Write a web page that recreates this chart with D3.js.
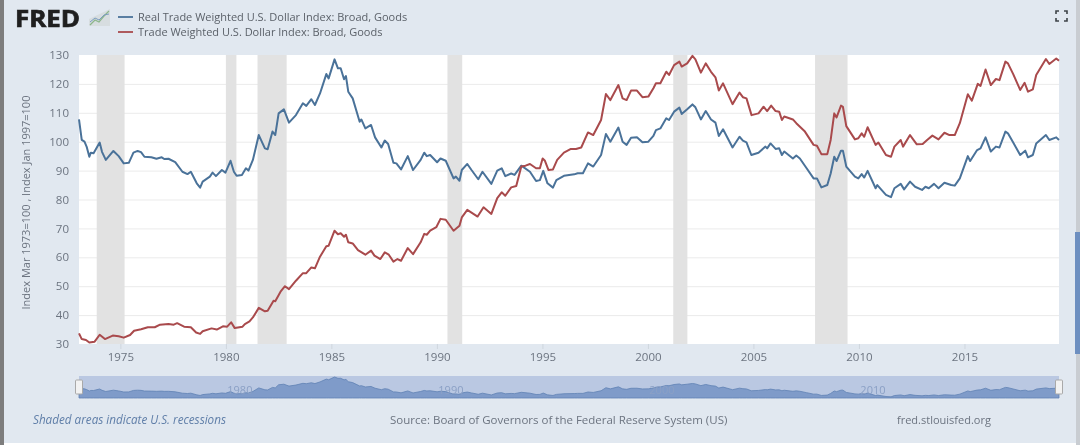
<!DOCTYPE html>
<html>
<head>
<meta charset="utf-8">
<script src="https://cdn.jsdelivr.net/npm/d3@7"></script>
<style>
  html, body { margin: 0; padding: 0; background: #e1e8f0; overflow: hidden; }
  text { font-family: "Open Sans", sans-serif; }
  /* the reference is a soft screenshot */
  #chart { filter: blur(0.35px); }
</style>
</head>
<body>
<svg id="chart" width="1080" height="445"></svg>
<script>
const realName = "Real Trade Weighted U.S. Dollar Index: Broad, Goods";
const nominalName = "Trade Weighted U.S. Dollar Index: Broad, Goods";
const yearTicks = [1975, 1980, 1985, 1990, 1995, 2000, 2005, 2010, 2015];
const valueTicks = [30, 40, 50, 60, 70, 80, 90, 100, 110, 120, 130];
const navigatorLabels = [1980, 1990, 2000, 2010];

// [start, end] in decimal years
const recessions = [[1973.88, 1975.2], [1980.0, 1980.5], [1981.5, 1982.88], [1990.5, 1991.2], [2001.2, 2001.87], [2007.92, 2009.46]];

// [decimal year, index]
const realSeries = [
  [1973.04,107.7],[1973.17,100.6],[1973.3,100],[1973.4,98.3],[1973.53,94.8],[1973.6,96.2],[1973.73,96],[1974.02,99.7],[1974.13,96.5],[1974.31,93.7],
  [1974.67,96.8],[1974.92,95],[1975.16,92.5],[1975.4,92.7],[1975.62,96.2],[1975.82,96.8],[1975.98,96.4],[1976.14,94.8],[1976.47,94.6],[1976.71,94.1],
  [1976.96,94.6],[1977.08,94],[1977.28,94.1],[1977.6,92.9],[1977.94,89.6],[1978.18,88.8],[1978.34,89.6],[1978.62,85.6],[1978.78,84.1],[1978.9,86.2],
  [1979.24,87.9],[1979.37,89.3],[1979.53,88.1],[1979.81,90.2],[1979.98,89.3],[1980.22,93.4],[1980.38,89.6],[1980.51,88.2],[1980.76,88.5],[1980.95,90.8],
  [1981.07,90],[1981.28,93.7],[1981.56,102.3],[1981.85,97.7],[1981.98,97.4],[1982.21,103.5],[1982.34,102.3],[1982.5,109.8],[1982.75,111.2],[1982.99,106.6],
  [1983.32,109.2],[1983.65,113.3],[1983.81,112.4],[1984.05,114.7],[1984.22,112.7],[1984.46,116.7],[1984.76,123.4],[1984.87,121.9],[1985.15,128.5],[1985.31,125.4],
  [1985.44,125.4],[1985.6,121.6],[1985.69,122.7],[1985.8,117.3],[1986.01,115],[1986.34,106.9],[1986.42,107.7],[1986.61,104.6],[1986.88,105.8],[1987.07,101.5],
  [1987.37,98],[1987.53,100.4],[1987.69,99.2],[1987.94,92.7],[1988.08,92.5],[1988.3,90.4],[1988.62,95],[1988.87,90.2],[1989.23,93.7],[1989.4,96.2],
  [1989.52,95],[1989.68,95.4],[1990.01,92.9],[1990.17,94.2],[1990.42,93.4],[1990.79,87.3],[1990.9,87.9],[1991.07,86.5],[1991.18,90.2],[1991.44,92.3],
  [1991.64,90.2],[1991.96,87],[1992.16,89.6],[1992.58,85.4],[1992.86,90],[1993.07,90.8],[1993.24,88.1],[1993.52,89],[1993.68,88.5],[1994.0,91.7],
  [1994.41,89.6],[1994.7,86.4],[1994.88,86.7],[1995.04,89.9],[1995.24,85.6],[1995.5,84.1],[1995.66,86.7],[1996.02,88.2],[1996.51,88.7],[1996.67,89.1],
  [1996.92,89.1],[1997.16,92.5],[1997.41,91.4],[1997.78,95.4],[1998.01,102.7],[1998.22,100],[1998.6,104.9],[1998.8,100],[1998.99,98.9],[1999.2,101.4],
  [1999.48,101.5],[1999.74,99.8],[2000.02,100],[2000.26,102],[2000.38,104],[2000.59,104.6],[2000.87,108.1],[2001,107.5],[2001.24,110.4],[2001.49,111.8],
  [2001.6,109.6],[2001.86,111.2],[2002.11,112.9],[2002.25,111.9],[2002.51,107.7],[2002.74,110.6],[2002.99,107.7],[2003.2,106.6],[2003.36,102],[2003.56,104.3],
  [2004.01,98],[2004.34,101.7],[2004.5,100.4],[2004.67,99.8],[2004.9,95.4],[2005.24,96.2],[2005.57,98.3],[2005.65,97.7],[2005.81,99.4],[2006.05,97.5],
  [2006.22,97.7],[2006.35,95.4],[2006.46,96.6],[2006.87,94.2],[2007.03,95.2],[2007.2,94.2],[2007.52,90.8],[2007.85,87.3],[2008.01,87.3],[2008.22,84.2],
  [2008.5,85],[2008.66,89],[2008.83,94.8],[2008.94,93.3],[2009.15,96.9],[2009.24,96.9],[2009.4,91.4],[2009.81,87.9],[2009.97,87.3],[2010.13,88.8],
  [2010.25,87.6],[2010.41,89.9],[2010.79,83.9],[2010.87,85],[2011.28,81.6],[2011.52,80.8],[2011.68,83.9],[2011.98,85.4],[2012.14,83.5],[2012.42,86.2],
  [2012.66,84.4],[2012.99,83.3],[2013.15,84.4],[2013.31,83.9],[2013.56,85.4],[2013.77,83.9],[2014.05,85.8],[2014.37,85],[2014.54,84.8],[2014.78,87.3],
  [2015.16,95],[2015.27,93.3],[2015.6,97.1],[2015.76,97.7],[2016.0,101.5],[2016.25,96.6],[2016.49,98.3],[2016.66,98],[2016.94,103.5],[2017.06,102.9],
  [2017.31,99.7],[2017.64,95.4],[2017.88,96.9],[2018.01,94.6],[2018.24,95.4],[2018.4,99.4],[2018.86,102.3],[2019.02,100.6],[2019.35,101.5],[2019.48,100.6]
];

const nominalSeries = [
  [1973.04,33.7],[1973.17,31.7],[1973.37,31.4],[1973.53,30.5],[1973.78,30.8],[1974.02,33.2],[1974.27,31.7],[1974.64,32.9],[1974.92,32.7],[1975.16,32.2],
  [1975.46,33.1],[1975.65,34.6],[1975.98,35.1],[1976.3,35.8],[1976.63,35.8],[1976.88,36.7],[1977.28,36.9],[1977.53,36.7],[1977.69,37.2],[1978.02,36],
  [1978.34,35.8],[1978.59,34],[1978.78,33.5],[1978.9,34.4],[1979.32,35.4],[1979.57,35],[1979.86,36.1],[1980.06,36],[1980.25,37.5],[1980.42,35.5],
  [1980.79,36],[1980.9,36.9],[1981.12,37.8],[1981.28,39.2],[1981.56,42.5],[1981.85,41.3],[1981.98,41.5],[1982.26,45],[1982.34,44.8],[1982.59,48.1],
  [1982.8,50],[1982.99,49],[1983.32,51.9],[1983.65,54.5],[1983.81,54.5],[1984.05,56.5],[1984.22,56.2],[1984.46,60.2],[1984.76,63.8],[1984.87,64],
  [1985.15,69.2],[1985.31,68],[1985.44,68.3],[1985.6,67.1],[1985.69,67.8],[1985.8,65.2],[1986.01,64.8],[1986.26,62.5],[1986.61,60.9],[1986.88,62.3],
  [1987.04,60.6],[1987.32,59.4],[1987.53,61.7],[1987.72,60.9],[1987.94,58.5],[1988.13,59.4],[1988.3,58.8],[1988.62,63.2],[1988.87,61.1],[1989.23,65.2],
  [1989.4,68.1],[1989.52,67.8],[1989.68,69.2],[1989.97,70.4],[1990.17,73.3],[1990.42,73],[1990.79,69.2],[1991.07,70.9],[1991.18,73.8],[1991.44,76.4],
  [1991.93,74.1],[1992.21,77.3],[1992.58,75],[1992.86,80.5],[1993.07,82.5],[1993.24,81.3],[1993.52,84.2],[1993.76,84.7],[1994.0,91.4],[1994.2,91.7],
  [1994.41,92.3],[1994.7,90.8],[1994.88,90.8],[1995.01,94.2],[1995.12,93.4],[1995.29,90.2],[1995.5,90.4],[1995.7,93.7],[1996.02,96.2],[1996.35,97.5],
  [1996.59,97.5],[1996.84,98],[1997.16,103.2],[1997.41,102.3],[1997.78,107.5],[1998.01,116.5],[1998.22,114.4],[1998.6,119.6],[1998.8,115],[1998.99,114.4],
  [1999.2,117.7],[1999.48,117.7],[1999.74,115.4],[2000.02,115.6],[2000.26,118.5],[2000.38,120.2],[2000.59,120.2],[2000.87,124.2],[2001,123.1],[2001.24,126.5],
  [2001.49,127.7],[2001.6,126],[2001.86,127.1],[2002.11,129.7],[2002.25,128.5],[2002.51,123.9],[2002.74,127.1],[2002.99,124.2],[2003.2,122.3],[2003.36,117.7],
  [2003.56,120.2],[2004.01,113],[2004.34,117],[2004.5,115.4],[2004.67,115],[2004.91,109.2],[2005.24,109.8],[2005.48,112.1],[2005.65,110.6],[2005.84,112.5],
  [2006.05,110.6],[2006.22,110.4],[2006.35,107.5],[2006.46,108.7],[2006.87,107.7],[2007.03,106.4],[2007.44,103.5],[2007.85,98.9],[2008.01,98.6],[2008.22,95.7],
  [2008.5,95.7],[2008.66,100.6],[2008.83,109.8],[2008.94,108.4],[2009.15,112.5],[2009.24,112.1],[2009.4,105.4],[2009.81,100.8],[2009.97,101.2],[2010.13,102.9],
  [2010.25,101.7],[2010.41,105],[2010.79,98.9],[2010.92,99.7],[2011.28,95.4],[2011.52,94.8],[2011.68,98.3],[2011.98,100.6],[2012.09,98.3],[2012.42,102.3],
  [2012.74,99.1],[2013.02,99.2],[2013.23,100.6],[2013.48,102.1],[2013.77,100.8],[2014.05,103.1],[2014.29,102.3],[2014.54,102.3],[2014.78,106.4],[2015.16,116.4],
  [2015.35,114.2],[2015.63,120],[2015.76,119.3],[2016,125],[2016.25,119.6],[2016.49,121.7],[2016.66,121.3],[2016.94,127.7],[2017.06,127.1],[2017.31,123.4],
  [2017.64,117.9],[2017.85,120.4],[2018.01,117.3],[2018.24,118.1],[2018.4,123.1],[2018.86,128.6],[2019.02,126.9],[2019.35,128.8],[2019.48,128]
];

const blue = "#4a7299";
const red = "#a94a4c";
const textColor = "#6c7480";

const marginLeft = 79;
const plotRight = 1059;
const plotTop = 55;
const plotBottom = 344;
const navTop = 376;
const navBottom = 398;

const svg = d3.select("#chart");

// window edges of the screenshot
svg.append("rect").attr("width", 4).attr("height", 445).attr("fill", "#7d7d7d");
svg.append("rect").attr("x", 1076).attr("width", 4).attr("height", 445).attr("fill", "#c9cdd2");
svg.append("rect").attr("x", 1075).attr("y", 232).attr("width", 5).attr("height", 122).attr("fill", "#6d8fc0");
svg.append("rect").attr("x", 4).attr("y", 443).attr("width", 1072).attr("height", 2).attr("fill", "#fff");

const x = d3.scaleLinear().domain([1973.04, 2019.48]).range([marginLeft, plotRight]);
const y = d3.scaleLinear().domain([30, 130]).range([plotBottom, plotTop]);

svg.append("rect")
    .attr("x", marginLeft).attr("y", plotTop)
    .attr("width", plotRight - marginLeft).attr("height", plotBottom - plotTop)
    .attr("fill", "#fff");

svg.append("g")
    .attr("transform", `translate(${marginLeft},0)`)
    .call(d3.axisLeft(y).tickValues(valueTicks).tickSize(0).tickPadding(10))
    .call(g => g.select(".domain").remove())
    .call(g => g.selectAll(".tick text").attr("fill", textColor).attr("font-size", 11.5))
    .call(g => g.selectAll(".tick").filter(d => d > 30 && d < 130).append("line")
        .attr("x2", plotRight - marginLeft)
        .attr("stroke", "#ebebeb")
        .attr("stroke-width", 1));

svg.append("g")
    .attr("transform", `translate(0,${plotBottom})`)
    .call(d3.axisBottom(x).tickValues(yearTicks).tickFormat(d3.format("d")).tickSize(5).tickPadding(4))
    .call(g => g.select(".domain").remove())
    .call(g => g.selectAll(".tick line").attr("stroke", "#cfd6de"))
    .call(g => g.selectAll(".tick text").attr("fill", textColor).attr("font-size", 11.5));

svg.append("g").selectAll("rect")
    .data(recessions)
    .join("rect")
    .attr("x", d => x(d[0]))
    .attr("y", plotTop)
    .attr("width", d => x(d[1]) - x(d[0]))
    .attr("height", plotBottom - plotTop)
    .attr("fill", "#e2e2e2");

const line = d3.line()
    .x(d => x(d[0]))
    .y(d => y(d[1]));

svg.append("path")
    .datum(realSeries)
    .attr("fill", "none")
    .attr("stroke", blue)
    .attr("stroke-width", 2)
    .attr("stroke-linejoin", "round")
    .attr("d", line);

svg.append("path")
    .datum(nominalSeries)
    .attr("fill", "none")
    .attr("stroke", red)
    .attr("stroke-width", 2)
    .attr("stroke-linejoin", "round")
    .attr("d", line);

svg.append("text")
    .attr("transform", `translate(30,${(plotTop + plotBottom) / 2 + 3}) rotate(-90)`)
    .attr("text-anchor", "middle")
    .attr("fill", textColor)
    .attr("font-size", 11)
    .text("Index Mar 1973=100 , Index Jan 1997=100");

// header: logo and legend
svg.append("text")
    .attr("transform", "translate(15,27) scale(1.08,1)")
    .attr("fill", "#1f1f1f")
    .attr("stroke", "#1f1f1f")
    .attr("stroke-width", 0.7)
    .attr("font-family", "'Liberation Sans', sans-serif")
    .attr("font-weight", 700)
    .attr("font-size", 24)
    .text("FRED");

const logo = svg.append("g").attr("transform", "translate(89,9)");
logo.append("path").attr("d", "M0,17V10L21,0V17Z").attr("fill", "#d7dde0");
logo.append("path").attr("d", "M1,16L6,11L10,13L15,7L20,2").attr("fill", "none").attr("stroke", "#8bb58a").attr("stroke-width", 1.2);
logo.append("path").attr("d", "M1,13L6,9L10,11L15,6L20,5").attr("fill", "none").attr("stroke", "#7c9cc0").attr("stroke-width", 1);

const legend = svg.append("g").selectAll("g")
    .data([[realName, blue], [nominalName, red]])
    .join("g")
    .attr("transform", (d, i) => `translate(118,${17 + i * 15})`);

legend.append("line")
    .attr("x2", 15)
    .attr("y1", 0).attr("y2", 0)
    .attr("stroke", d => d[1])
    .attr("stroke-width", 1.8);

legend.append("text")
    .attr("x", 20)
    .attr("y", 4)
    .attr("fill", "#5b6169")
    .attr("font-size", 11)
    .text(d => d[0]);

// fullscreen icon
const icon = svg.append("g").attr("fill", "none").attr("stroke", "#3e4348").attr("stroke-width", 1.6);
[[1056, 11, 1, 1], [1067, 11, -1, 1], [1056, 21, 1, -1], [1067, 21, -1, -1]].forEach(([cx, cy, dx, dy]) => {
    icon.append("path").attr("d", `M${cx + 3 * dx},${cy}H${cx}V${cy + 3 * dy}`);
});

// navigator under the chart
const navY = d3.scaleLinear().domain([78, 128.5]).range([navBottom, navTop + 1]);

svg.append("rect")
    .attr("x", marginLeft).attr("y", navTop)
    .attr("width", plotRight - marginLeft).attr("height", navBottom - navTop)
    .attr("fill", "#bac8e2");

svg.append("path")
    .datum(realSeries)
    .attr("fill", "#7f9bc9")
    .attr("stroke", "#5f81b4")
    .attr("stroke-width", 0.8)
    .attr("d", d3.area().x(d => x(d[0])).y0(navBottom).y1(d => navY(d[1])));

svg.append("g").selectAll("text")
    .data(navigatorLabels)
    .join("text")
    .attr("x", d => x(d) + 14)
    .attr("y", 394)
    .attr("text-anchor", "middle")
    .attr("fill", "#8ba0c5")
    .attr("font-size", 11)
    .text(d => d);

svg.append("g").selectAll("rect")
    .data([marginLeft, plotRight])
    .join("rect")
    .attr("x", d => d - 3.5)
    .attr("y", 380)
    .attr("width", 7)
    .attr("height", 14)
    .attr("rx", 1)
    .attr("fill", "#f2f2f2")
    .attr("stroke", "#a9a9a9");

// footer
svg.append("text")
    .attr("x", 33).attr("y", 424)
    .attr("fill", "#5f7ea8")
    .attr("font-style", "italic")
    .attr("font-size", 11.7)
    .text("Shaded areas indicate U.S. recessions");

svg.append("text")
    .attr("x", 390).attr("y", 424)
    .attr("fill", textColor)
    .attr("font-size", 11.5)
    .text("Source: Board of Governors of the Federal Reserve System (US)");

svg.append("text")
    .attr("x", 897).attr("y", 424)
    .attr("fill", textColor)
    .attr("font-size", 11)
    .text("fred.stlouisfed.org");
</script>
</body>
</html>
